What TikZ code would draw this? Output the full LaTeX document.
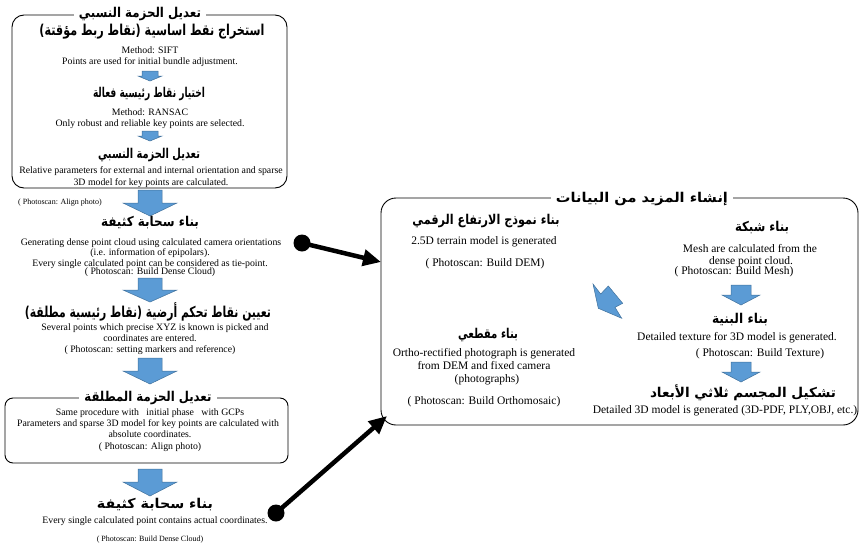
\documentclass[tikz,border=0pt]{standalone}
\usepackage{fontspec}
\usepackage{graphicx}
\setmainfont{Liberation Serif}
\newfontfamily\arabicfont[Script=Arabic]{DejaVu Sans}
\TeXXeTstate=1
\usetikzlibrary{arrows.meta}
\definecolor{arrowblue}{RGB}{91,155,213}
\definecolor{arrowedge}{RGB}{65,113,156}
\newcommand\arfit[2]{\resizebox{#1pt}{\height}{#2}}
\tikzset{
  en/.style={font=\fontsize{9.8}{11}\selectfont, inner sep=0pt, anchor=base},
  ensmall/.style={font=\fontsize{8}{9}\selectfont, inner sep=0pt, anchor=base},
  enr/.style={font=\fontsize{11.5}{13}\selectfont, inner sep=0pt, anchor=base},
  arh/.style={font=\arabicfont\bfseries\fontsize{13.5}{15}\selectfont, inner sep=0pt},
  arbig/.style={font=\arabicfont\bfseries\fontsize{15}{17}\selectfont, inner sep=0pt},
  panel/.style={draw, line width=0.9pt},
  ptitle/.style={fill=white, inner xsep=5pt, inner ysep=2pt, font=\arabicfont\bfseries\fontsize{13.5}{15}\selectfont},
  conn/.style={line width=4.5pt, -{Triangle[length=18pt,width=16pt]}},
  dot/.style={circle, fill=black, inner sep=0pt, minimum size=17pt},
  pics/blk/.style args={#1/#2/#3/#4}{code={
    \filldraw[fill=arrowblue, draw=arrowedge, line width=0.5pt]
      (-#2,0) -- (#2,0) -- (#2,#3-#4) -- (#1,#3-#4) -- (0,#3) -- (-#1,#3-#4) -- (-#2,#3-#4) -- cycle;}},
}
\begin{document}
\begin{tikzpicture}[x=1pt,y=-1pt]
\useasboundingbox (0,0) rectangle (862,549);

% ---------- top box: relative bundle adjustment
\node[panel, rounded corners=12pt, minimum width=275pt, minimum height=173pt] (box1) at (149.5,101.5) {};
\node[ptitle] (t1) at (140,14) {\arfit{122}{\beginR تعديل الحزمة النسبي\endR}};
\node[arbig] (h1) at (152,32) {\arfit{225}{\beginR استخراج نقط اساسية (نقاط ربط مؤقتة)\endR}};
\node[en] (e1a) at (150,53.5) {Method: SIFT};
\node[en] (e1b) at (150,64.5) {Points are used for initial bundle adjustment.};
\pic at (150,71) {blk={12/8/10/5}};
\node[arh] (h2) at (149,94) {\arfit{112}{\beginR اختيار نقاط رئيسية فعالة\endR}};
\node[en] (e2a) at (150,115.5) {Method: RANSAC};
\node[en] (e2b) at (150,126.5) {Only robust and reliable key points are selected.};
\pic at (150,131) {blk={12/8/10/5}};
\node[arh] (h3) at (149,155) {\arfit{102}{\beginR تعديل الحزمة النسبي\endR}};
\node[en] (e3a) at (151,173.5) {Relative parameters for external and internal orientation and sparse};
\node[en] (e3b) at (151,185) {3D model for key points are calculated.};

% ---------- dense cloud
\pic at (150,190) {blk={27/12/26/13}};
\node[ensmall] (e4) at (60,204) {( Photoscan: Align photo)};
\node[arh] (h4) at (150,223) {\arfit{98}{\beginR بناء سحابة كثيفة\endR}};
\node[en] (e5a) at (151,245) {Generating dense point cloud using calculated camera orientations};
\node[en] (e5b) at (150,255.5) {(i.e. information of epipolars).};
\node[en] (e5c) at (150,266) {Every single calculated point can be considered as tie-point.};
\node[en] (e5d) at (150,274.5) {( Photoscan: Build Dense Cloud)};

% ---------- GCP
\pic at (150,278) {blk={27/12/24/12}};
\node[arbig] (h5) at (148,312) {\arfit{246}{\beginR تعيين نقاط تحكم أرضية (نقاط رئيسية مطلقة)\endR}};
\node[en] (e6a) at (155,330.5) {Several points which precise XYZ is known is picked and};
\node[en] (e6b) at (150,341) {coordinates are entered.};
\node[en] (e6c) at (150,352) {( Photoscan: setting markers and reference)};
\pic at (150,358) {blk={27/12/26/13}};

% ---------- absolute bundle adjustment box
\node[panel, rounded corners=8pt, minimum width=283pt, minimum height=65pt] (box2) at (146.5,430.5) {};
\node[ptitle] (t2) at (148,398) {\arfit{127}{\beginR تعديل الحزمة المطلقة\endR}};
\node[en] (e7a) at (150,415) {Same procedure with \ \ initial phase \ \ with GCPs};
\node[en] (e7b) at (148,426.5) {Parameters and sparse 3D model for key points are calculated with};
\node[en] (e7c) at (150,437) {absolute coordinates.};
\node[en] (e7d) at (150,449) {( Photoscan: Align photo)};

\pic at (150,469) {blk={27/12/27/14}};
\node[arh] (h6) at (155,505) {\arfit{116}{\beginR بناء سحابة كثيفة\endR}};
\node[en] (e8a) at (155,523.5) {Every single calculated point contains actual coordinates.};
\node[ensmall] (e8b) at (150,541.5) {( Photoscan: Build Dense Cloud)};

% ---------- right box: more products
\node[panel, rounded corners=15pt, minimum width=477pt, minimum height=227pt] (box3) at (619.5,311.5) {};
\node[ptitle] (t3) at (642,199) {\arfit{172}{\beginR إنشاء المزيد من البيانات\endR}};

\node[arh] (h7) at (486,221) {\arfit{147}{\beginR بناء نموذج الارتفاع الرقمي\endR}};
\node[enr] (e9a) at (484,244) {2.5D terrain model is generated};
\node[enr] (e9b) at (485,266) {( Photoscan: Build DEM)};

\node[arh] (h8) at (762,228) {\arfit{54}{\beginR بناء شبكة\endR}};
\node[enr] (e10a) at (750,252) {Mesh are calculated from the};
\node[enr] (e10b) at (751,264) {dense point cloud.};
\node[enr] (e10c) at (734,274.5) {( Photoscan: Build Mesh)};
\pic at (741,285) {blk={19/10/20/10}};

\node[arh] (h9) at (740,320) {\arfit{56}{\beginR بناء البنية\endR}};
\node[enr] (e11a) at (737,340) {Detailed texture for 3D model is generated.};
\node[enr] (e11b) at (760,356) {( Photoscan: Build Texture)};
\pic at (741,362) {blk={19/10/20/10}};

\node[arh] (h10) at (743,393) {\arfit{186}{\beginR تشكيل المجسم ثلاثي الأبعاد\endR}};
\node[enr] (e12) at (725,413) {Detailed 3D model is generated (3D-PDF, PLY,OBJ, etc.)};

\node[arh] (h11) at (488,335) {\arfit{60}{\beginR بناء مقطعي\endR}};
\node[enr] (e13a) at (484,356) {Ortho-rectified photograph is generated};
\node[enr] (e13b) at (484,369) {from DEM and fixed camera};
\node[enr] (e13c) at (487,382) {(photographs)};
\node[enr] (e13d) at (484,404) {( Photoscan: Build Orthomosaic)};

% odd blue shape
\filldraw[fill=arrowblue, draw=arrowedge, line width=0.5pt]
  (593,284) -- (600.7,294) -- (608.3,286) -- (622.7,303.3) -- (615,307.3) -- (621.7,318.3) -- (598.3,308.3) -- cycle;

% ---------- connectors
\node[dot] (d1) at (302,243) {};
\coordinate (c1) at (381,262);
\draw[conn] (d1.center) -- (c1);
\node[dot] (d2) at (276,513) {};
\coordinate (c2) at (387,416);
\draw[conn] (d2.center) -- (c2);
\end{tikzpicture}
\end{document}
